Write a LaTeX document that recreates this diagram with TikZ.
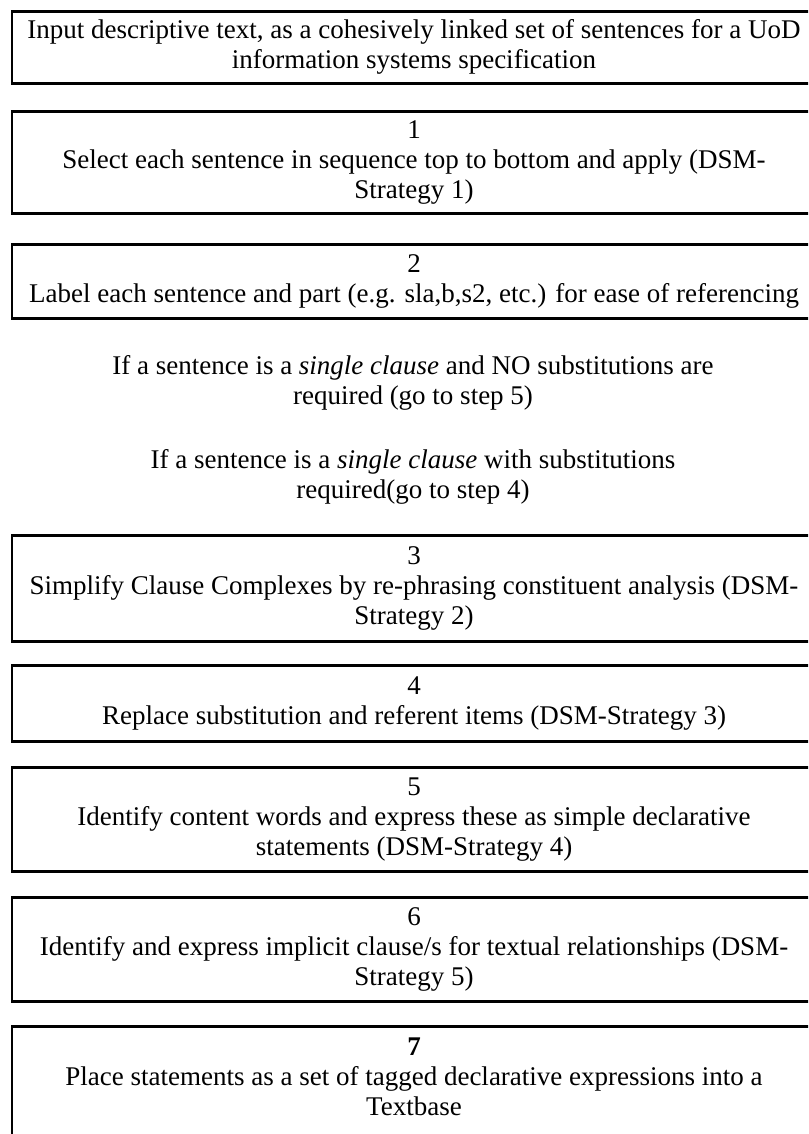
\documentclass[tikz,border=0pt]{standalone}
\usepackage{fontspec}
\setmainfont{Liberation Serif}
\begin{document}
\begin{tikzpicture}[x=1pt,y=-1pt,
  stepbox/.style={draw=black, line width=2.6pt, anchor=north, minimum width=804pt,
    inner sep=0pt, align=center, font=\fontsize{27}{30}\selectfont},
  plain/.style={align=center, inner sep=0pt, font=\fontsize{27}{30}\selectfont}]
\useasboundingbox (0,0) rectangle (808,1134);
\clip (0,0) rectangle (808,1134);
\node[stepbox, minimum height=72pt] (b0) at (414,10)
  {Input descriptive text, as a cohesively linked set of sentences for a UoD\\information systems specification};
\node[stepbox, minimum height=102pt] (b1) at (414,110)
  {1\\Select each sentence in sequence top to bottom and apply (DSM-\\Strategy 1)};
\node[stepbox, minimum height=74pt] (b2) at (414,243)
  {2\\Label each sentence and part (e.g. sla,b,s2, etc.) for ease of referencing};
\node[plain] (p1) at (413,383)
  {If a sentence is a \textit{single clause} and NO substitutions are\\required (go to step 5)};
\node[plain] (p2) at (413,477)
  {If a sentence is a \textit{single clause} with substitutions\\required(go to step 4)};
\node[stepbox, minimum height=106pt] (b3) at (414,534)
  {3\\Simplify Clause Complexes by re-phrasing constituent analysis (DSM-\\Strategy 2)};
\node[stepbox, minimum height=76pt] (b4) at (414,664)
  {4\\Replace substitution and referent items (DSM-Strategy 3)};
\node[stepbox, minimum height=104pt] (b5) at (414,766)
  {5\\Identify content words and express these as simple declarative\\statements (DSM-Strategy 4)};
\node[stepbox, minimum height=104pt] (b6) at (414,896)
  {6\\Identify and express implicit clause/s for textual relationships (DSM-\\Strategy 5)};
\node[stepbox, minimum height=140pt] (b7) at (414,1025) {};
\node[plain] (t7) at (414,1077)
  {\textbf{7}\\Place statements as a set of tagged declarative expressions into a\\Textbase};
\end{tikzpicture}
\end{document}
